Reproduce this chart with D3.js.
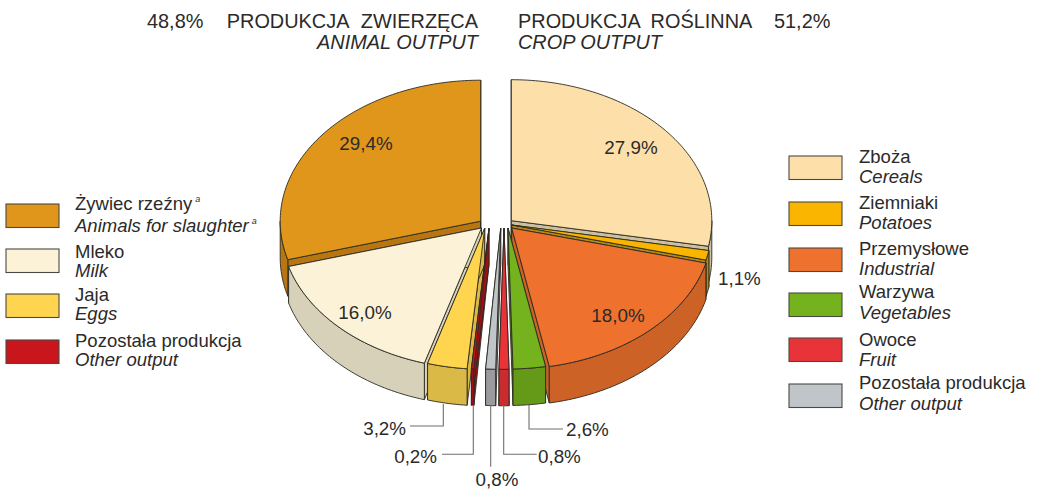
<!DOCTYPE html>
<html>
<head>
<meta charset="utf-8">
<script src="https://cdn.jsdelivr.net/npm/d3@7"></script>
<style>
html, body { margin: 0; padding: 0; background: #fff; }
svg { display: block; }
text { font-family: "Liberation Sans", Arial, sans-serif; fill: #2b2a29; }
</style>
</head>
<body>
<svg id="drawing_region"></svg>
<script>
// pie data, clockwise from 12 o'clock
const categories = ['Zboża', 'Ziemniaki', 'Przemysłowe', 'Warzywa', 'Owoce', 'Pozostała produkcja', 'Pozostała produkcja', 'Jaja', 'Mleko', 'Żywiec rzeźny'];
const categoriesEn = ['Cereals', 'Potatoes', 'Industrial', 'Vegetables', 'Fruit', 'Other output', 'Other output', 'Eggs', 'Milk', 'Animals for slaughter'];
const shares = [27.9, 1.1, 18.0, 2.6, 0.8, 0.8, 0.2, 3.2, 16.0, 29.4];
const shareLabels = ['27,9%', '1,1%', '18,0%', '2,6%', '0,8%', '0,8%', '0,2%', '3,2%', '16,0%', '29,4%'];
const topColors = ['#fde0a9', '#f9b500', '#ee722e', '#74b31e', '#e83338', '#c0c5c9', '#c8161c', '#ffd54f', '#fcf2d8', '#e0961a'];
const sideColors = ['#cdc0a2', '#b48a10', '#cc6226', '#659a18', '#c92b2f', '#9b9b9f', '#9a1015', '#dab946', '#d8d1ba', '#b87613'];
const headers = ['PRODUKCJA ZWIERZĘCA', 'ANIMAL OUTPUT', 'PRODUKCJA ROŚLINNA', 'CROP OUTPUT', '48,8%', '51,2%'];

const width = 1040, height = 489;
const rx = 200.5, ry = 141, depth = 36.5;
const headSize = 19.9, pctSize = 18.8, legendSize = 18.5;

// how far each slice is pulled out of the pie (apex position), same order as shares
const apex = [[511.3, 220.7], [511.7, 225], [511.7, 228], [508, 228], [504, 228.3], [500.7, 228.3],
              [489, 228.3], [484.7, 228.3], [481.5, 228], [480.7, 221.2]];
// back to front
const drawOrder = [9, 8, 7, 6, 0, 1, 2, 3, 4, 5];

const svg = d3.select('#drawing_region').attr('width', width).attr('height', height);

const slices = d3.pie().sort(null).startAngle(0).endAngle(2 * Math.PI)(shares);

const xproj = d3.scaleLinear().domain([-1, 1]).range([-rx, rx]);
const yproj = d3.scaleLinear().domain([-1, 1]).range([ry, -ry]);
const rim = (i, a) => [apex[i][0] + xproj(Math.sin(a)), apex[i][1] + yproj(Math.cos(a))];
const arcPoints = (i, a0, a1) => {
    const n = Math.max(2, Math.ceil((a1 - a0) / 0.02));
    return d3.range(n + 1).map(k => rim(i, a0 + (a1 - a0) * k / n));
};
const down = p => [p[0], p[1] + depth];
const line = d3.line();
const closed = pts => line(pts) + 'Z';

const pie_group = svg.append('g')
    .attr('stroke', '#2b2a22')
    .attr('stroke-width', 0.9)
    .attr('stroke-linejoin', 'round');

drawOrder.forEach(i => {
    const d = slices[i];
    const g = pie_group.append('g');
    const c = apex[i];

    // cut faces
    [d.startAngle, d.endAngle].forEach(a => {
        const p = rim(i, a);
        g.append('path').attr('fill', sideColors[i])
            .attr('d', closed([c, p, down(p), down(c)]));
    });

    // outer wall, only the front half of the ellipse shows
    const a0 = Math.max(d.startAngle, Math.PI / 2), a1 = Math.min(d.endAngle, 3 * Math.PI / 2);
    if (a1 > a0) {
        const pts = arcPoints(i, a0, a1);
        g.append('path').attr('fill', sideColors[i])
            .attr('d', closed(pts.concat(pts.map(down).reverse())));
    }

    // top
    g.append('path').attr('fill', topColors[i])
        .attr('d', closed([c].concat(arcPoints(i, d.startAngle, d.endAngle))));
});

// text helper
function label(x, y, str, opt) {
    opt = opt || {};
    return svg.append('text')
        .attr('x', x).attr('y', y)
        .attr('font-size', opt.size || legendSize)
        .attr('font-style', opt.italic ? 'italic' : null)
        .attr('text-anchor', opt.anchor || 'start')
        .attr('word-spacing', opt.spacing || null)
        .text(str);
}

// header
label(147, 28, headers[4], {size: headSize});
label(478, 28, headers[0], {size: headSize, anchor: 'end', spacing: 7});
label(478, 49, headers[1], {size: headSize, anchor: 'end', italic: true});
label(518, 28, headers[2], {size: headSize, spacing: 5.5});
label(518, 49, headers[3], {size: headSize, italic: true});
label(774, 28, headers[5], {size: headSize});

// labels on the slices
label(366, 149.5, shareLabels[9], {anchor: 'middle', size: pctSize});
label(631, 153.5, shareLabels[0], {anchor: 'middle', size: pctSize});
label(365, 318.5, shareLabels[8], {anchor: 'middle', size: pctSize});
label(618, 321.5, shareLabels[2], {anchor: 'middle', size: pctSize});
label(718, 284.5, shareLabels[1], {size: pctSize});

// leaders for small slices
const leaders = [
    {i: 7, path: [[443.3, 404], [443.3, 426], [410, 426]], x: 406, y: 434.5, anchor: 'end'},
    {i: 6, path: [[473.3, 405], [473.3, 454.3], [442, 454.3]], x: 437, y: 462.5, anchor: 'end'},
    {i: 5, path: [[490.7, 405], [490.7, 466.7]], x: 497, y: 486, anchor: 'middle'},
    {i: 4, path: [[503.7, 405], [503.7, 454.3], [536.7, 454.3]], x: 538, y: 462.5, anchor: 'start'},
    {i: 3, path: [[529, 405], [529, 429], [563, 429]], x: 566, y: 435.5, anchor: 'start'}
];
leaders.forEach(d => {
    svg.append('path').attr('d', line(d.path))
        .attr('fill', 'none').attr('stroke', '#6f6f6f').attr('stroke-width', 1.1);
    label(d.x, d.y, shareLabels[d.i], {anchor: d.anchor, size: pctSize});
});

// legends
const legendLeft = [
    {i: 9, y: 204, y1: 210, y2: 232, note: true},
    {i: 8, y: 249, y1: 257.5, y2: 276.5},
    {i: 7, y: 294, y1: 301, y2: 320},
    {i: 6, y: 340, y1: 347, y2: 366}
];
const legendRight = [
    {i: 0, y: 156, y1: 163, y2: 183},
    {i: 1, y: 202, y1: 209, y2: 229},
    {i: 2, y: 248, y1: 255, y2: 275},
    {i: 3, y: 293, y1: 298, y2: 319},
    {i: 4, y: 338, y1: 346, y2: 366},
    {i: 5, y: 384, y1: 389, y2: 410}
];
function legend(rows, x, textX) {
    rows.forEach(d => {
        svg.append('rect')
            .attr('x', x).attr('y', d.y).attr('width', 53).attr('height', 23.5)
            .attr('fill', topColors[d.i])
            .attr('stroke', '#4a4a42').attr('stroke-width', 1.1);
        const a = label(textX, d.y1, categories[d.i]);
        const b = label(textX, d.y2, categoriesEn[d.i], {italic: true});
        if (d.note) {
            [a, b].forEach(t => t.append('tspan')
                .attr('dx', 3).attr('dy', -8)
                .attr('font-size', 9).attr('font-style', 'italic').text('a'));
        }
    });
}
legend(legendLeft, 6, 75);
legend(legendRight, 789, 859);
</script>
</body>
</html>
